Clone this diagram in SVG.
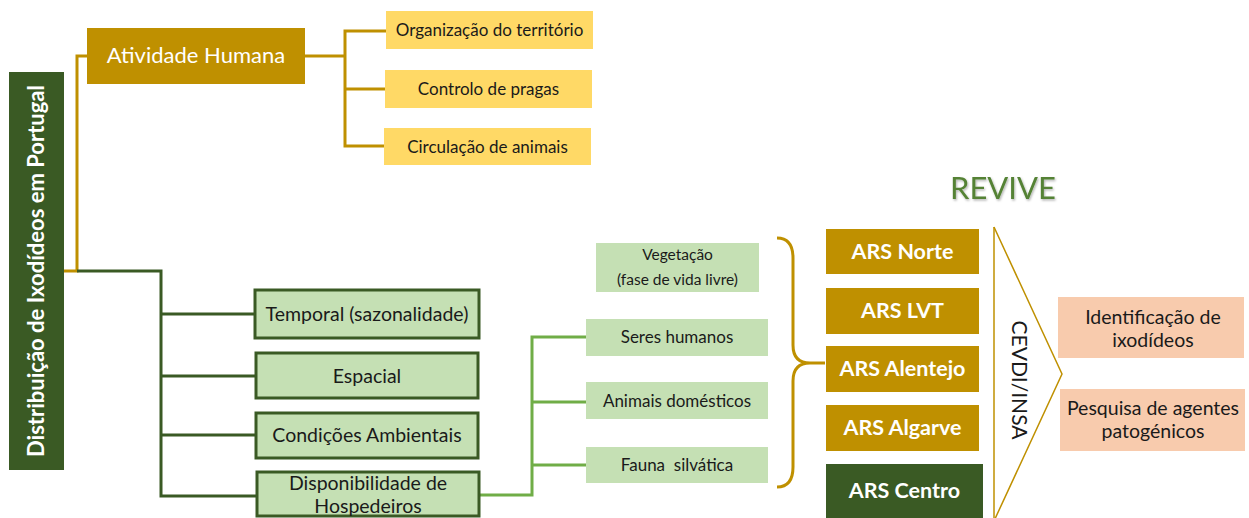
<svg xmlns="http://www.w3.org/2000/svg" width="1249" height="518" viewBox="0 0 1249 518">
<defs>
<style>
text{font-family:Lato,"Liberation Sans",sans-serif;}
.gold{fill:#BF9000;}
.dg{fill:#3A5A24;}
.yel{fill:#FFD966;}
.lg{fill:#C5E0B4;}
.lgb{fill:#C5E0B4;stroke:#3A5A24;stroke-width:3;}
.pink{fill:#F8CBAD;}
.wt{fill:#ffffff;text-anchor:middle;}
.bk{fill:#1a1a1a;text-anchor:middle;}
.lnGold{fill:none;stroke:#BF9000;stroke-width:3;}
.lnDg{fill:none;stroke:#3A5A24;stroke-width:3;}
.lnLg{fill:none;stroke:#70AD47;stroke-width:3;}
</style>
<filter id="sh" x="-10%" y="-10%" width="130%" height="140%">
<feDropShadow dx="1" dy="1.5" stdDeviation="1" flood-color="#000" flood-opacity="0.3"/>
</filter>
</defs>

<g id="connectors">
<polyline class="lnGold" points="64,271 77,271 77,56 87,56"/>
<polyline class="lnDg" points="77,271 161,271 161,496 256,496"/>
<line class="lnDg" x1="161" y1="314" x2="254" y2="314"/>
<line class="lnDg" x1="161" y1="376" x2="255" y2="376"/>
<line class="lnDg" x1="161" y1="435" x2="255" y2="435"/>
<polyline class="lnGold" points="305,56 345,56"/>
<polyline class="lnGold" points="386,31 345,31 345,146 384,146"/>
<line class="lnGold" x1="345" y1="89" x2="385" y2="89"/>
<polyline class="lnLg" points="480,495 532,495 532,337 586,337"/>
<line class="lnLg" x1="532" y1="402" x2="586" y2="402"/>
<line class="lnLg" x1="532" y1="465" x2="586" y2="465"/>
<path class="lnGold" d="M777,238 Q793,238 793,258 L793,345 Q793,363 810,363 Q793,363 793,381 L793,467 Q793,487 777,487"/>
<line class="lnGold" x1="810" y1="363" x2="825" y2="363"/>
<polyline fill="none" stroke="#BF9000" stroke-width="1.5" points="994,227 994,518"/>
<polyline fill="none" stroke="#BF9000" stroke-width="1.5" points="994,227 1062,374 994,521"/>
</g>

<g id="main">
<rect class="dg" x="9" y="72" width="55" height="398"/>
<text class="wt" transform="translate(44,271) rotate(-90)" font-size="22" font-weight="bold">Distribuição de Ixodídeos em Portugal</text>
</g>

<g id="atividade">
<rect class="gold" x="87" y="28" width="218" height="56"/>
<text class="wt" x="196" y="63" font-size="22">Atividade Humana</text>
</g>

<g id="organizacao">
<rect class="yel" x="386" y="11" width="207" height="38"/>
<text class="bk" x="489.5" y="36" font-size="17">Organização do território</text>
</g>
<g id="controlo">
<rect class="yel" x="385" y="70" width="207" height="38"/>
<text class="bk" x="488.5" y="95" font-size="17">Controlo de pragas</text>
</g>
<g id="circulacao">
<rect class="yel" x="384" y="128" width="207" height="37"/>
<text class="bk" x="487.5" y="153" font-size="17">Circulação de animais</text>
</g>

<g id="temporal">
<rect class="lgb" x="255" y="290" width="224" height="48"/>
<text class="bk" x="367" y="321" font-size="19.5">Temporal (sazonalidade)</text>
</g>
<g id="espacial">
<rect class="lgb" x="256" y="353" width="222" height="45"/>
<text class="bk" x="367" y="383" font-size="19.5">Espacial</text>
</g>
<g id="condicoes">
<rect class="lgb" x="256" y="413" width="222" height="45"/>
<text class="bk" x="367" y="442" font-size="19.5">Condições Ambientais</text>
</g>
<g id="disponibilidade">
<rect class="lgb" x="257" y="472" width="222" height="44"/>
<text class="bk" x="368" y="490" font-size="19.5">Disponibilidade de</text>
<text class="bk" x="368" y="513" font-size="19.5">Hospedeiros</text>
</g>

<g id="vegetacao">
<rect class="lg" x="596" y="243" width="163" height="49"/>
<text class="bk" x="677.5" y="260" font-size="15.5">Vegetação</text>
<text class="bk" x="677.5" y="285" font-size="15.5">(fase de vida livre)</text>
</g>
<g id="seres">
<rect class="lg" x="586" y="319" width="182" height="37"/>
<text class="bk" x="677" y="343" font-size="17">Seres humanos</text>
</g>
<g id="animais">
<rect class="lg" x="586" y="382" width="182" height="37"/>
<text class="bk" x="677" y="407" font-size="17">Animais domésticos</text>
</g>
<g id="fauna">
<rect class="lg" x="586" y="447" width="182" height="36"/>
<text class="bk" x="677" y="471" font-size="17" xml:space="preserve">Fauna  silvática</text>
</g>

<g id="revive">
<text x="1003" y="199" font-size="31" fill="#548235" text-anchor="middle" filter="url(#sh)">REVIVE</text>
</g>

<g id="ars-norte">
<rect class="gold" x="826" y="229" width="153" height="45"/>
<text class="wt" x="902.5" y="259" font-size="21.5" font-weight="bold">ARS Norte</text>
</g>
<g id="ars-lvt">
<rect class="gold" x="826" y="288" width="153" height="46"/>
<text class="wt" x="902.5" y="318" font-size="21.5" font-weight="bold">ARS LVT</text>
</g>
<g id="ars-alentejo">
<rect class="gold" x="826" y="346" width="153" height="46"/>
<text class="wt" x="902.5" y="376" font-size="21.5" font-weight="bold">ARS Alentejo</text>
</g>
<g id="ars-algarve">
<rect class="gold" x="826" y="405" width="153" height="46"/>
<text class="wt" x="902.5" y="435" font-size="21.5" font-weight="bold">ARS Algarve</text>
</g>
<g id="ars-centro">
<rect class="dg" x="826" y="464" width="157" height="54"/>
<text class="wt" x="904.5" y="498" font-size="21.5" font-weight="bold">ARS Centro</text>
</g>

<g id="cevdi">
<text class="bk" transform="translate(1012,380) rotate(90)" font-size="21">CEVDI/INSA</text>
</g>

<g id="identificacao">
<rect class="pink" x="1058" y="297" width="186" height="61"/>
<text class="bk" x="1153" y="324" font-size="19.5">Identificação de</text>
<text class="bk" x="1153" y="347" font-size="19.5">ixodídeos</text>
</g>
<g id="pesquisa">
<rect class="pink" x="1060" y="389" width="185" height="62"/>
<text class="bk" x="1153" y="415" font-size="19.5">Pesquisa de agentes</text>
<text class="bk" x="1153" y="438" font-size="19.5">patogénicos</text>
</g>
</svg>
